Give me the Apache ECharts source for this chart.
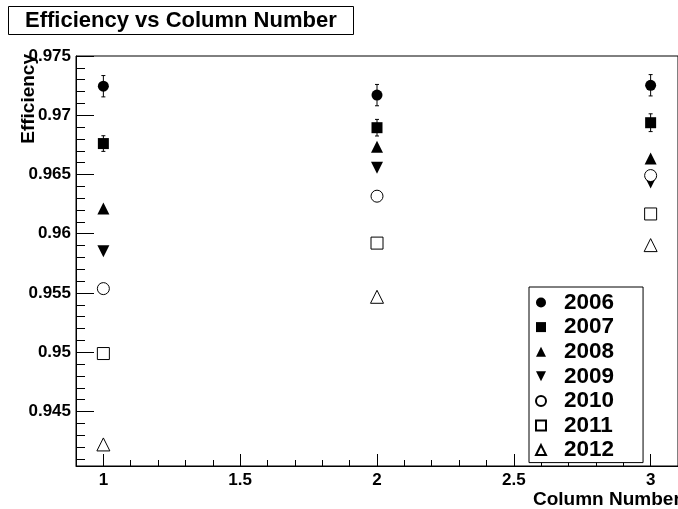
<!DOCTYPE html>
<html>
<head>
<meta charset="utf-8">
<script src="https://cdn.jsdelivr.net/npm/echarts@6/dist/echarts.min.js"></script>
<style>
html,body{margin:0;padding:0;background:#fff;}
#chart{width:678px;height:509px;}
</style>
</head>
<body>
<div id="chart"></div>
<script>
// ---- data ----
const columns = [1, 2, 3];
const years = ['2006', '2007', '2008', '2009', '2010', '2011', '2012'];
const eff2006 = [0.97245, 0.9717, 0.97253];
const eff2007 = [0.96761, 0.96895, 0.96937];
const eff2008 = [0.96213, 0.96734, 0.96635];
const eff2009 = [0.95853, 0.96557, 0.96433];
const eff2010 = [0.95537, 0.96317, 0.96491];
const eff2011 = [0.94989, 0.95921, 0.96167];
const eff2012 = [0.94222, 0.95468, 0.95904];
const err2006 = [0.0009, 0.0009, 0.0009];
const err2007 = [0.00066, 0.0007, 0.00075];
const xMajorTicks = [1, 1.5, 2, 2.5, 3];
const xMinorTicks = [1.1, 1.2, 1.3, 1.4, 1.6, 1.7, 1.8, 1.9, 2.1, 2.2, 2.3, 2.4, 2.6, 2.7, 2.8, 2.9];
const yMajorTicks = [0.945, 0.95, 0.955, 0.96, 0.965, 0.97, 0.975];
const yMinorTicks = [0.941, 0.942, 0.943, 0.944, 0.946, 0.947, 0.948, 0.949, 0.951, 0.952, 0.953, 0.954,
  0.956, 0.957, 0.958, 0.959, 0.961, 0.962, 0.963, 0.964, 0.966, 0.967, 0.968, 0.969,
  0.971, 0.972, 0.973, 0.974];

const FONT = 'Liberation Sans, Arial, sans-serif';
const downTri = 'path://M0,0 L10,0 L5,10 Z';

const seriesDefs = [
  { name: '2006', values: eff2006, symbol: 'circle', size: 11, fill: '#000' },
  { name: '2007', values: eff2007, symbol: 'rect', size: 11, fill: '#000' },
  { name: '2008', values: eff2008, symbol: 'triangle', size: 12, fill: '#000' },
  { name: '2009', values: eff2009, symbol: downTri, size: 12, fill: '#000' },
  { name: '2010', values: eff2010, symbol: 'circle', size: 12, fill: '#fff' },
  { name: '2011', values: eff2011, symbol: 'rect', size: 12, fill: '#fff' },
  { name: '2012', values: eff2012, symbol: 'triangle', size: 13, fill: '#fff' }
];

function errData(vals, errs) {
  return columns.map((c, i) => [c, vals[i] - errs[i], vals[i] + errs[i]]);
}

const errorSeries = {
  type: 'custom',
  name: 'errors',
  z: 1,
  silent: true,
  data: errData(eff2006, err2006).concat(errData(eff2007, err2007)),
  renderItem: function (params, api) {
    const x = api.value(0);
    const p1 = api.coord([x, api.value(1)]);
    const p2 = api.coord([x, api.value(2)]);
    const st = { stroke: '#000', lineWidth: 1 };
    return {
      type: 'group',
      children: [
        { type: 'line', shape: { x1: p1[0], y1: p1[1], x2: p2[0], y2: p2[1] }, style: st },
        { type: 'line', shape: { x1: p1[0] - 2, y1: p1[1], x2: p1[0] + 2, y2: p1[1] }, style: st },
        { type: 'line', shape: { x1: p2[0] - 2, y1: p2[1], x2: p2[0] + 2, y2: p2[1] }, style: st }
      ]
    };
  }
};

const scatterSeries = seriesDefs.map(d => ({
  type: 'scatter',
  name: d.name,
  z: 2,
  symbol: d.symbol,
  symbolSize: d.size,
  itemStyle: { color: d.fill, borderColor: '#000', borderWidth: d.fill === '#fff' ? 1 : 0, opacity: 1 },
  emphasis: { disabled: true },
  data: columns.map((c, i) => [c, d.values[i]])
}));

const chart = echarts.init(document.getElementById('chart'), null, { renderer: 'canvas' });
chart.setOption({
  animation: false,
  backgroundColor: '#fff',
  title: {
    text: 'Efficiency vs Column Number',
    left: 8, top: 6,
    padding: [3, 17, 3, 17],
    borderColor: '#000', borderWidth: 1,
    backgroundColor: '#fff',
    textStyle: { fontFamily: FONT, fontWeight: 'bold', fontSize: 22, lineHeight: 23, color: '#000' }
  },
  legend: {
    data: years,
    orient: 'vertical',
    left: 529, top: 287,
    padding: [4, 29, 1, 6],
    itemGap: 1.6,
    itemWidth: 10, itemHeight: 10,
    borderColor: '#000', borderWidth: 1,
    backgroundColor: '#fff',
    selectedMode: false,
    textStyle: { fontFamily: FONT, fontWeight: 'bold', fontSize: 22.5, lineHeight: 22, color: '#000', padding: [0, 0, 0, 13] }
  },
  grid: {
    left: 76, top: 56, width: 606, height: 410,
    show: true, borderColor: '#000', borderWidth: 1, backgroundColor: 'transparent'
  },
  xAxis: [
    {
      type: 'value', min: 0.9, max: 3.1, position: 'bottom',
      splitLine: { show: false },
      axisLine: { show: true, lineStyle: { color: '#000', width: 1 } },
      axisTick: { show: true, inside: true, length: 12, customValues: xMajorTicks, lineStyle: { color: '#000' } },
      axisLabel: { show: true, customValues: xMajorTicks, margin: 6, color: '#000', fontFamily: FONT, fontWeight: 'bold', fontSize: 17 }
    },
    {
      type: 'value', min: 0.9, max: 3.1, position: 'bottom', gridIndex: 0,
      splitLine: { show: false },
      axisLine: { show: false },
      axisTick: { show: true, inside: true, length: 6, customValues: xMinorTicks, lineStyle: { color: '#000' } },
      axisLabel: { show: false }
    }
  ],
  yAxis: [
    {
      type: 'value', min: 0.9404, max: 0.975, position: 'left',
      splitLine: { show: false },
      axisLine: { show: true, lineStyle: { color: '#000', width: 1 } },
      axisTick: { show: true, inside: true, length: 18, customValues: yMajorTicks, lineStyle: { color: '#000' } },
      axisLabel: { show: true, customValues: yMajorTicks, margin: 5, color: '#000', fontFamily: FONT, fontWeight: 'bold', fontSize: 17 }
    },
    {
      type: 'value', min: 0.9404, max: 0.975, position: 'left', gridIndex: 0,
      splitLine: { show: false },
      axisLine: { show: false },
      axisTick: { show: true, inside: true, length: 9, customValues: yMinorTicks, lineStyle: { color: '#000' } },
      axisLabel: { show: false }
    }
  ],
  graphic: [
    {
      type: 'text', x: 29, y: 54, rotation: Math.PI / 2, z: 10,
      style: { text: 'Efficiency', fill: '#000', font: 'bold 19px ' + FONT, textAlign: 'right', textVerticalAlign: 'middle' }
    },
    {
      type: 'text', x: 533, y: 500, z: 10,
      style: { text: 'Column Number', fill: '#000', font: 'bold 19px ' + FONT, textAlign: 'left', textVerticalAlign: 'middle' }
    }
  ],
  series: [errorSeries].concat(scatterSeries)
});
</script>
</body>
</html>
